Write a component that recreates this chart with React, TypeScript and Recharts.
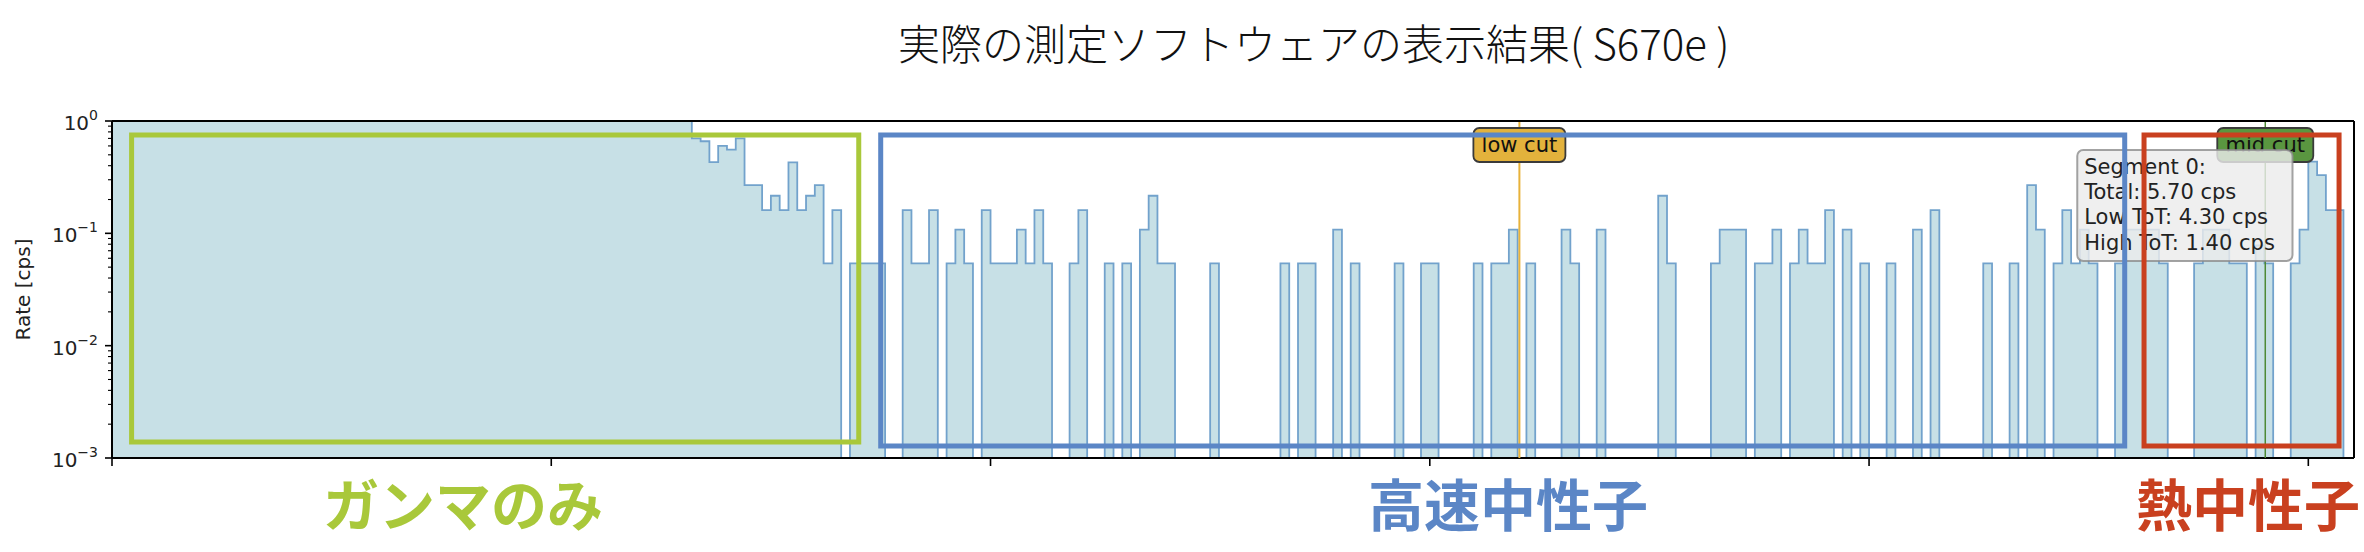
import React from 'react';
import { ComposedChart, Area, XAxis, YAxis, ReferenceLine, ReferenceArea } from 'recharts';

document.body.style.margin = '0';

// rate per ToT bin (0..255), cps; bins 0-65 are off the top of the plot
const rateCps = [
  1.5, 1.5, 1.5, 1.5, 1.5, 1.5, 1.5, 1.5, 1.5, 1.5, 1.5, 1.5, 1.5, 1.5, 1.5, 1.5,
  1.5, 1.5, 1.5, 1.5, 1.5, 1.5, 1.5, 1.5, 1.5, 1.5, 1.5, 1.5, 1.5, 1.5, 1.5, 1.5,
  1.5, 1.5, 1.5, 1.5, 1.5, 1.5, 1.5, 1.5, 1.5, 1.5, 1.5, 1.5, 1.5, 1.5, 1.5, 1.5,
  1.5, 1.5, 1.5, 1.5, 1.5, 1.5, 1.5, 1.5, 1.5, 1.5, 1.5, 1.5, 1.5, 1.5, 1.5, 1.5,
  1.5, 1.5, 0.7, 0.66, 0.43, 0.6, 0.555, 0.7, 0.269, 0.269, 0.161, 0.216, 0.161, 0.429, 0.161, 0.216,
  0.269, 0.054, 0.161, 0, 0.054, 0.054, 0.054, 0.054, 0, 0, 0.161, 0.054, 0.054, 0.161, 0, 0.054,
  0.108, 0.054, 0, 0.161, 0.054, 0.054, 0.054, 0.108, 0.054, 0.161, 0.054, 0, 0, 0.054, 0.161, 0,
  0, 0.054, 0, 0.054, 0, 0.108, 0.216, 0.054, 0.054, 0, 0, 0, 0, 0.054, 0, 0,
  0, 0, 0, 0, 0, 0.054, 0, 0.054, 0.054, 0, 0, 0.108, 0, 0.054, 0, 0,
  0, 0, 0.054, 0, 0, 0.054, 0.054, 0, 0, 0, 0, 0.054, 0, 0.054, 0.054, 0.108,
  0, 0.054, 0, 0, 0, 0.108, 0.054, 0, 0, 0.108, 0, 0, 0, 0, 0, 0,
  0.216, 0.054, 0, 0, 0, 0, 0.054, 0.108, 0.108, 0.108, 0, 0.054, 0.054, 0.108, 0, 0.054,
  0.108, 0.054, 0.054, 0.161, 0, 0.108, 0, 0.054, 0, 0, 0.054, 0, 0, 0.108, 0, 0.161,
  0, 0, 0, 0, 0, 0.054, 0, 0, 0.054, 0, 0.269, 0.108, 0, 0.054, 0.161, 0.054,
  0.108, 0.054, 0, 0, 0.054, 0.108, 0.108, 0.108, 0.108, 0.054, 0, 0, 0, 0.054, 0.108, 0.108,
  0.108, 0.054, 0.054, 0, 0.078, 0.054, 0, 0, 0.054, 0.108, 0.434, 0.33, 0.161, 0.161, 0, 0,
];

const RATE_FLOOR = 0.001;
const X_MAX = 255.2;
const xTicks = [0, 50, 100, 150, 200, 250];
const yMajorTicks = [0.001, 0.01, 0.1, 1];
const yMinorTicks = [
  0.002, 0.003, 0.004, 0.005, 0.006, 0.007, 0.008, 0.009,
  0.02, 0.03, 0.04, 0.05, 0.06, 0.07, 0.08, 0.09,
  0.2, 0.3, 0.4, 0.5, 0.6, 0.7, 0.8, 0.9,
];

const lowCut = 160.2;
const midCut = 245.1;

const segmentLines = ['Segment 0:', 'Total: 5.70 cps', 'Low ToT: 4.30 cps', 'High ToT: 1.40 cps'];
// text box extent in data coords
const segBoxX = [223.7, 248.2];
const segBoxY = [0.0567, 0.552];

// highlighted regions drawn over the screenshot
const regionNames = ['ガンマのみ', '高速中性子', '熱中性子'];
const regionColors = ['#a9c83a', '#5b86c6', '#c9401f'];
const regionX1 = [2.23, 87.5, 231.3];
const regionX2 = [85.0, 229.1, 253.5];
const regionYTop = [0.75, 0.75, 0.75];
const regionYBottom = [0.00139, 0.00128, 0.00128];
const regionLabelCenter = [463, 1508, 2248];

const histData = rateCps.map((v, i) => ({ tot: i, rate: Math.max(v, RATE_FLOOR) }));
histData.push({ tot: 256, rate: RATE_FLOOR });

const FONT = '"DejaVu Sans", sans-serif';
const JP_FONT = '"Noto Sans CJK JP", sans-serif';

const YTick = (props: any) => {
  const { x, y, payload } = props;
  const lg = Math.log10(payload.value);
  const exp = Math.round(lg);
  const major = Math.abs(lg - exp) < 1e-6;
  return (
    <g>
      <line x1={x - (major ? 7 : 4)} x2={x} y1={y} y2={y} stroke="#000" strokeWidth={major ? 1.6 : 1.1} />
      {major && (
        <text x={x - 14} y={y + 9} textAnchor="end" fontFamily={FONT} fontSize={20} fill="#222">
          10
          <tspan dy={-10} fontSize={14}>{exp === 0 ? '0' : '\u2212' + -exp}</tspan>
        </text>
      )}
    </g>
  );
};

const CutLabel = ({ viewBox, text, fill, w }: any) => {
  const cx = viewBox.x;
  const top = viewBox.y;
  return (
    <g>
      <rect x={cx - w / 2} y={top + 7} width={w} height={34} rx={6} fill={fill} stroke="#3a3a3a" strokeWidth={1.8} />
      <text x={cx} y={top + 30.5} textAnchor="middle" fontFamily={FONT} fontSize={21} fill="#111">
        {text}
      </text>
    </g>
  );
};

const SegmentText = ({ viewBox }: any) => (
  <text fontFamily={FONT} fontSize={21} fill="#222">
    {segmentLines.map((line, i) => (
      <tspan key={i} x={viewBox.x + 7} y={viewBox.y + 24 + i * 25.2}>
        {line}
      </tspan>
    ))}
  </text>
);

export default function App() {
  return (
    <div style={{ position: 'relative', width: 2364, height: 552, overflow: 'hidden', background: '#fff' }}>
      <ComposedChart
        width={2364}
        height={552}
        data={histData}
        margin={{ top: 121, right: 10, bottom: 84, left: 12 }}
      >
        <XAxis
          type="number"
          dataKey="tot"
          domain={[0, X_MAX]}
          allowDataOverflow
          ticks={xTicks}
          interval={0}
          height={10}
          tickSize={8}
          tickLine={{ stroke: '#000', strokeWidth: 1.6 }}
          axisLine={{ stroke: '#000', strokeWidth: 2 }}
          tick={() => <g />}
        />
        <YAxis
          type="number"
          scale="log"
          domain={[RATE_FLOOR, 1]}
          allowDataOverflow
          ticks={[...yMajorTicks, ...yMinorTicks]}
          interval={0}
          width={100}
          tickSize={0}
          tickMargin={0}
          tickLine={false}
          axisLine={{ stroke: '#000', strokeWidth: 2 }}
          tick={(p: any) => <YTick {...p} />}
          label={{
            content: (p: any) => (
              <text
                x={23}
                y={p.viewBox.y + p.viewBox.height / 2}
                transform={`rotate(-90 23 ${p.viewBox.y + p.viewBox.height / 2})`}
                textAnchor="middle"
                dominantBaseline="central"
                fontFamily={FONT}
                fontSize={20}
                fill="#222"
              >
                Rate [cps]
              </text>
            ),
          }}
        />
        <Area
          type="stepAfter"
          dataKey="rate"
          baseValue="dataMin"
          fill="#c7e0e6"
          fillOpacity={1}
          stroke="#72a2cc"
          strokeWidth={1.8}
          dot={false}
          activeDot={false}
          isAnimationActive={false}
        />
        <ReferenceLine
          x={lowCut}
          stroke="#e8b23a"
          strokeWidth={2}
          zIndex={700}
          label={(p: any) => <CutLabel viewBox={p.viewBox} text="low cut" fill="#e3b23c" w={92} />}
        />
        <ReferenceLine
          x={midCut}
          stroke="#4d8a35"
          strokeWidth={1.5}
          zIndex={700}
          label={(p: any) => <CutLabel viewBox={p.viewBox} text="mid cut" fill="#5a9640" w={96} />}
        />
        <ReferenceArea
          x1={segBoxX[0]}
          x2={segBoxX[1]}
          y1={segBoxY[0]}
          y2={segBoxY[1]}
          fill="#ebebeb"
          fillOpacity={0.82}
          stroke="#8c8c8c"
          strokeOpacity={0.8}
          strokeWidth={2}
          radius={6}
          zIndex={800}
          label={(p: any) => <SegmentText viewBox={p.viewBox} />}
        />
        <ReferenceLine y={1} stroke="#000" strokeWidth={2} ifOverflow="visible" zIndex={900} />
        <ReferenceLine x={X_MAX} stroke="#000" strokeWidth={2} ifOverflow="visible" zIndex={900} />
        {regionNames.map((name, i) => (
          <ReferenceArea
            key={name}
            x1={regionX1[i]}
            x2={regionX2[i]}
            y1={regionYBottom[i]}
            y2={regionYTop[i]}
            fill="none"
            stroke={regionColors[i]}
            strokeWidth={5}
            zIndex={2500}
          />
        ))}
      </ComposedChart>

      <div
        style={{
          position: 'absolute',
          left: 898,
          width: 800,
          top: 21,
          height: 42,
          lineHeight: '42px',
          textAlign: 'center',
          fontFamily: JP_FONT,
          fontWeight: 300,
          fontSize: 42,
          color: '#111',
          whiteSpace: 'nowrap',
        }}
      >
        実際の測定ソフトウェアの表示結果( S670e )
      </div>

      {regionNames.map((name, i) => (
        <div
          key={name}
          style={{
            position: 'absolute',
            left: regionLabelCenter[i] - 200,
            width: 400,
            top: 474,
            height: 56,
            lineHeight: '56px',
            textAlign: 'center',
            fontFamily: JP_FONT,
            fontWeight: 700,
            fontSize: 56,
            color: regionColors[i],
            whiteSpace: 'nowrap',
          }}
        >
          {name}
        </div>
      ))}
    </div>
  );
}
